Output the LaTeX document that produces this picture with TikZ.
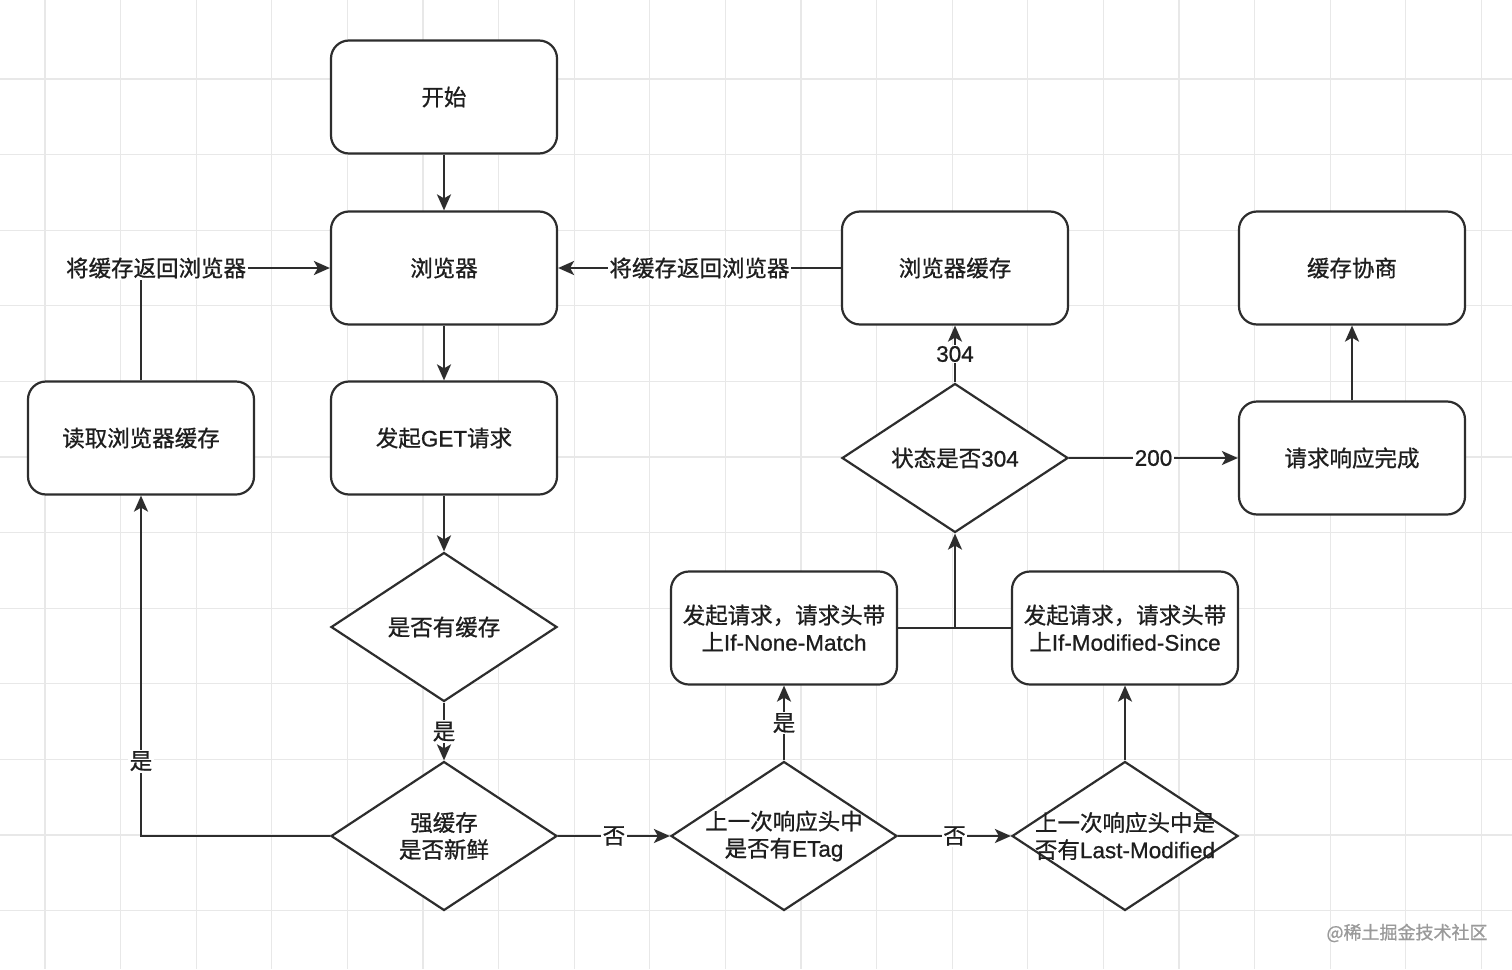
\documentclass[tikz,border=0pt]{standalone}
\usepackage{fontspec}
\setmainfont{Noto Sans CJK SC}[FakeBold=0.8]
\newfontfamily\latfont{Liberation Sans}[FakeBold=0.8]
\newcommand{\lat}[1]{{\latfont #1}}
\usetikzlibrary{shapes.geometric,arrows.meta}
\definecolor{linec}{HTML}{2D2D2D}
\definecolor{textc}{HTML}{1E1E1E}
\definecolor{gridc}{HTML}{E8E8E8}
\definecolor{wmc}{HTML}{9A9A9A}
\begin{document}
\begin{tikzpicture}[x=1pt,y=-1pt,
  box/.style={draw=linec, line width=2.2pt, rounded corners=18pt, minimum width=226pt, minimum height=113pt, inner sep=0pt, fill=white},
  dia/.style={draw=linec, line width=2.2pt, diamond, minimum width=226pt, minimum height=149pt, inner sep=0pt, fill=white},
  txt/.style={align=center, font=\fontsize{22.5}{27}\selectfont, text=textc, inner sep=0pt},
  lbl/.style={fill=white, inner sep=1.5pt, font=\fontsize{22.5}{27}\selectfont, text=textc},
  arr/.style={draw=linec, line width=2.2pt, -{Stealth[length=16pt,width=14pt,inset=4pt]}},
  ln/.style={draw=linec, line width=2.2pt}]
\useasboundingbox (0,0) rectangle (1512,969);
\fill[white] (0,0) rectangle (1512,969);
% grid
\foreach \i in {0,...,19} \draw[gridc, line width=1.3pt] ({45+75.6*\i},0) -- ++(0,969);
\foreach \j in {0,...,11} \draw[gridc, line width=1.3pt] (0,{79+75.6*\j}) -- ++(1512,0);

% nodes
\node[box] (start) at (444,97) {};
\node[txt] at (start) {开始};
\node[box] (browser) at (444,268) {};
\node[txt] at (browser) {浏览器};
\node[box] (get) at (444,438) {};
\node[txt] at (get) {发起\lat{GET}请求};
\node[dia] (hascache) at (444,627) {};
\node[txt] at (hascache) {是否有缓存};
\node[dia] (fresh) at (444,836) {};
\node[txt] at (fresh) {强缓存\\是否新鲜};
\node[box] (read) at (141,438) {};
\node[txt] at (read) {读取浏览器缓存};
\node[dia] (etag) at (784,836) {};
\node[txt] at (etag) {上一次响应头中\\是否有\lat{ETag}};
\node[dia] (lastmod) at (1125,836) {};
\node[txt] at (lastmod) {上一次响应头中是\\否有\lat{Last-Modified}};
\node[box] (inm) at (784,628) {};
\node[txt] at (inm) {发起请求，请求头带\\上\lat{If-None-Match}};
\node[box] (ims) at (1125,628) {};
\node[txt] at (ims) {发起请求，请求头带\\上\lat{If-Modified-Since}};
\node[dia] (status) at (955,458) {};
\node[txt] at (status) {状态是否\lat{304}};
\node[box] (bcache) at (955,268) {};
\node[txt] at (bcache) {浏览器缓存};
\node[box] (nego) at (1352,268) {};
\node[txt] at (nego) {缓存协商};
\node[box] (done) at (1352,458) {};
\node[txt] at (done) {请求响应完成};
\coordinate (j) at (955,628);

% edges
\draw[arr] (start) -- (browser);
\draw[arr] (browser) -- (get);
\draw[arr] (get) -- (hascache);
\draw[arr] (hascache) -- node[lbl]{是} (fresh);
\draw[arr] (fresh.west) -| node[lbl, pos=0.61]{是} (read.south);
\draw[arr] (read.north) |- node[lbl, pos=0.54]{将缓存返回浏览器} (browser.west);
\draw[arr] (bcache.west) -- node[lbl]{将缓存返回浏览器} (browser.east);
\draw[arr] (fresh.east) -- node[lbl]{否} (etag.west);
\draw[arr] (etag.north) -- node[lbl]{是} (inm.south);
\draw[arr] (etag.east) -- node[lbl]{否} (lastmod.west);
\draw[arr] (lastmod.north) -- (ims.south);
\draw[ln] (inm.east) -- (j);
\draw[ln] (ims.west) -- (j);
\draw[arr] (j) -- (status.south);
\draw[arr] (status.north) -- node[lbl]{\lat{304}} (bcache.south);
\draw[arr] (status.east) -- node[lbl]{\lat{200}} (done.west);
\draw[arr] (done.north) -- (nego.south);

% watermark
\node[text=wmc, font=\fontsize{18}{22}\selectfont, inner sep=0pt] (wm) at (1407,933) {@稀土掘金技术社区};
\end{tikzpicture}
\end{document}
